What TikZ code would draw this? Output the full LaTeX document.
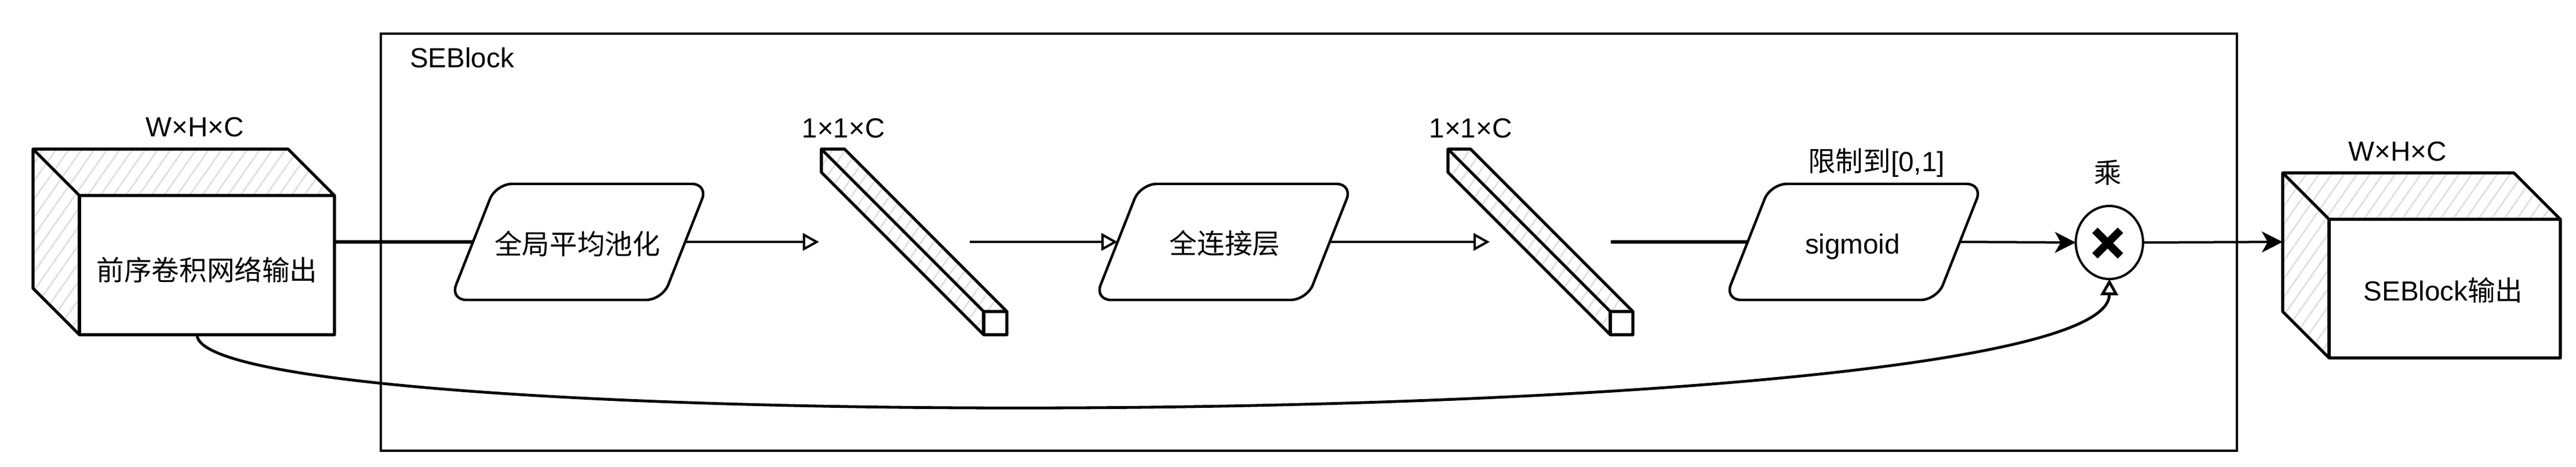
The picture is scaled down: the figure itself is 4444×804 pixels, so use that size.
\documentclass[tikz,border=0pt]{standalone}
\usepackage{fontspec}
\setmainfont{Liberation Sans}
\newfontfamily\cjk{Noto Sans CJK SC}
\usetikzlibrary{arrows.meta,patterns.meta,shapes.geometric}

\tikzset{
  lbl/.style={font=\fontsize{11.9}{14}\selectfont, inner sep=0pt, outer sep=0pt},
  edgeline/.style={line width=1.3pt, line join=round},
  hatchface/.style={pattern={Lines[angle=55,distance=4.5pt,line width=0.7pt]}, pattern color=black!12},
  shapeline/.style={line width=1.1pt, rounded corners=7pt, fill=white},
  conn/.style={line width=1pt},
  sketchconn/.style={line width=1.6pt},
  openhead/.style={-{Triangle[open,length=7pt,width=7.5pt]}},
  fillhead/.style={-{Stealth[length=9pt,width=9pt,inset=2.5pt]}},
}

% cube: front face (x1,y1)-(x2,y2), depth d
\newcommand\mycube[5]{%
  \fill[white] ({#1-#5},{#2-#5}) -- ({#3-#5},{#2-#5}) -- (#3,#2) -- (#3,#4) -- (#1,#4) -- ({#1-#5},{#4-#5}) -- cycle;
  \fill[hatchface] ({#1-#5},{#2-#5}) -- ({#3-#5},{#2-#5}) -- (#3,#2) -- (#1,#2) -- cycle;
  \fill[hatchface] ({#1-#5},{#2-#5}) -- (#1,#2) -- (#1,#4) -- ({#1-#5},{#4-#5}) -- cycle;
  \draw[edgeline] ({#1-#5},{#2-#5}) -- ({#3-#5},{#2-#5}) -- (#3,#2) -- (#3,#4) -- (#1,#4) -- ({#1-#5},{#4-#5}) -- cycle;
  \draw[edgeline] ({#1-#5},{#2-#5}) -- (#1,#2) -- (#3,#2);
  \draw[edgeline] (#1,#2) -- (#1,#4);
}

% rounded parallelogram centred at (cx,417)
\newcommand\mypar[2]{%
  \draw[shapeline] ({#2-222.5},517) -- ({#2-143.5},317) -- ({#2+222.5},317) -- ({#2+143.5},517) -- cycle;
  \coordinate (#1-w) at ({#2-183},417);
  \coordinate (#1-e) at ({#2+183},417);
}

\begin{document}
\begin{tikzpicture}[x=0.25pt, y=-0.25pt]
\useasboundingbox (0,0) rectangle (4444,804);

% SEBlock frame
\draw[line width=0.85pt] (657,58) rectangle (3859,777);
\node[lbl, anchor=base west] (setitle) at (707,116) {SEBlock};

% connection points
\coordinate (in-e) at (577,417);
\coordinate (in-s) at (340,577);
\coordinate (s1tip) at (1413,417);
\coordinate (s1out) at (1673,417);
\coordinate (s2tip) at (2570,417);
\coordinate (s2out) at (2779,417);
\coordinate (out-w) at (3938,417);

% multiply node
\node[draw, ellipse, line width=1pt, minimum width=29pt, minimum height=31.5pt,
      inner sep=0pt, outer sep=0pt, fill=white] (mul) at (3639,418) {};
\draw[line width=3.3pt] (3614,397) -- (3658,441) (3658,397) -- (3614,441);
\node[lbl] (multxt) at (3636,297) {\cjk 乘};

% skip connection
\draw[line width=1.2pt, openhead] (in-s) .. controls (340,760) and (3638,750) .. (mul.south);

% input cube
\mycube{137}{337}{577}{577}{80}
\node[lbl] (intxt) at (357,465) {\cjk 前序卷积网络输出};
\node[lbl, anchor=base] (indim) at (336,235) {W×H×C};

% global average pooling
\mypar{pool}{999}
\node[lbl] (pooltxt) at (996,420) {\cjk 全局平均池化};

% slab 1
\mycube{1697}{537}{1737}{577}{280}
\node[lbl, anchor=base] (s1dim) at (1455,237) {1×1×C};

% fully connected
\mypar{fc}{2111}
\node[lbl] (fctxt) at (2113,419) {\cjk 全连接层};

% slab 2
\mycube{2778}{537}{2817}{577}{280}
\node[lbl, anchor=base] (s2dim) at (2537,237) {1×1×C};

% sigmoid
\mypar{sig}{3198}
\node[lbl, anchor=base] (sigtxt) at (3196,437) {sigmoid};
\node[lbl, anchor=base] (siglbl) at (3237,295) {{\cjk 限制到}[0,1]};

% output cube
\mycube{4018}{378}{4417}{617}{80}
\node[lbl] (outtxt) at (4215,500) {SEBlock{\cjk 输出}};
\node[lbl, anchor=base] (outdim) at (4136,277) {W×H×C};

% connectors
\draw[sketchconn] (in-e) -- (pool-w);
\draw[conn, openhead] (pool-e) -- (s1tip);
\draw[conn, openhead] (s1out) -- (fc-w);
\draw[conn, openhead] (fc-e) -- (s2tip);
\draw[sketchconn] (s2out) -- (sig-w);
\draw[conn, fillhead] (sig-e) -- (mul.west);
\draw[conn, fillhead] (mul.east) -- (out-w);
\end{tikzpicture}
\end{document}
